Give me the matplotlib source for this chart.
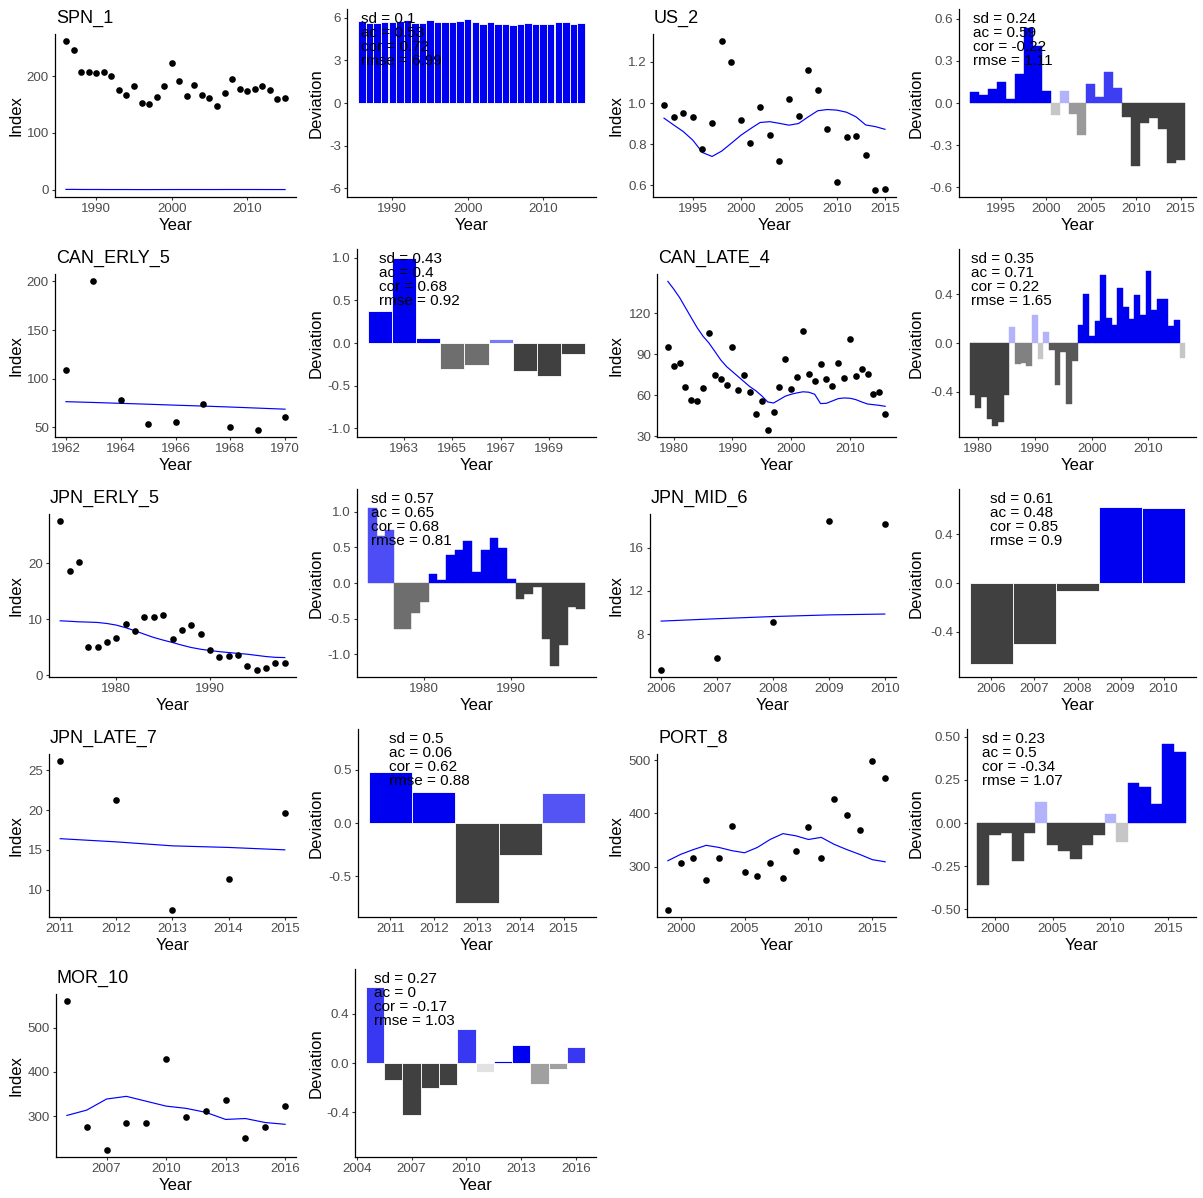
import matplotlib
matplotlib.use("Agg")
import matplotlib.pyplot as plt
from matplotlib.colors import to_rgb
from matplotlib.transforms import blended_transform_factory as blend

plt.rcParams['font.family'] = ['Liberation Sans', 'DejaVu Sans']
plt.rcParams['axes.unicode_minus'] = False

# ------------------------------------------------------------------ data
spn_years = list(range(1986, 2016))
spn_index = [261, 246, 207, 207, 206, 207, 201, 176, 167, 183, 153, 151, 163, 183, 223,
             191, 165, 185, 167, 162, 148, 170, 195, 177, 174, 177, 183, 175, 159, 162]
spn_fit = [0.82, 0.89, 0.73, 0.70, 0.71, 0.65, 0.60, 0.62, 0.61, 0.55, 0.53, 0.52, 0.56, 0.59, 0.62,
           0.65, 0.64, 0.64, 0.63, 0.61, 0.63, 0.67, 0.69, 0.67, 0.66, 0.67, 0.63, 0.60, 0.60, 0.59]
spn_dev = [5.76, 5.62, 5.65, 5.69, 5.67, 5.76, 5.81, 5.65, 5.62, 5.81, 5.67, 5.67, 5.67, 5.74, 5.88,
           5.69, 5.55, 5.67, 5.58, 5.58, 5.46, 5.53, 5.65, 5.58, 5.58, 5.58, 5.67, 5.67, 5.58, 5.62]
spn_shade = [1.0, 1.0, 1.0, 1.0, 1.0, 1.0, 1.0, 1.0, 1.0, 1.0, 1.0, 1.0, 1.0, 1.0, 1.0,
             1.0, 1.0, 1.0, 1.0, 1.0, 1.0, 1.0, 1.0, 1.0, 1.0, 1.0, 1.0, 1.0, 1.0, 1.0]
spn_stats = [0.1, 0.53, 0.72, 6.99]

us_years = list(range(1992, 2016))
us_index = [0.993, 0.933, 0.95, 0.933, 0.776, 0.904, 1.30, 1.20, 0.917, 0.808, 0.979, 0.846,
            0.72, 1.02, 0.938, 1.163, 1.065, 0.873, 0.618, 0.837, 0.842, 0.748, 0.58, 0.584]
us_fit = [0.927, 0.894, 0.862, 0.82, 0.76, 0.741, 0.767, 0.805, 0.844, 0.876, 0.906, 0.91,
          0.902, 0.893, 0.901, 0.933, 0.963, 0.969, 0.966, 0.956, 0.933, 0.894, 0.886, 0.873]
us_dev = [0.075, 0.056, 0.10, 0.148, 0.03, 0.205, 0.534, 0.405, 0.087, -0.085, 0.085, -0.078,
          -0.23, 0.136, 0.042, 0.224, 0.11, -0.10, -0.447, -0.139, -0.106, -0.184, -0.43, -0.405]
us_shade = [1, 1, 1, 1, 1, 1, 1, 1, 1, 0.3, 0.3, 0.53,
            0.53, 0.76, 0.76, 0.76, 0.76, 1, 1, 1, 1, 1, 1, 1]
us_stats = [0.24, 0.59, -0.22, 1.11]

cane_years = list(range(1962, 1971))
cane_index = [109, 200, 77.6, 53.8, 55.9, 74.1, 50.7, 47.6, 60.3]
cane_fit = [76.3, 75.5, 74.6, 73.7, 72.7, 71.8, 70.8, 69.7, 68.6]
cane_dev = [0.37, 0.99, 0.06, -0.31, -0.255, 0.05, -0.325, -0.385, -0.13]
cane_shade = [1, 1, 1, 0.76, 0.76, 0.52, 1, 1, 1]
cane_stats = [0.43, 0.4, 0.68, 0.92]

canl_years = list(range(1979, 2017))
canl_index = [95.2, 81.4, 83.8, 65.9, 56.8, 55.8, 65.4, 105.2, 75, 71.8, 67.1, 95.2, 63.9,
              74.5, 62.5, 46, 56.1, 34.9, 47.9, 65.9, 86.3, 64.2, 73, 107.2, 75.5, 70.3,
              82.6, 71.8, 66.6, 83.4, 72.5, 101.3, 74, 78.9, 75.7, 61.2, 62.7, 46.5]
canl_fit = [143.1, 137.5, 131.3, 123.9, 116.5, 109.2, 103, 98.1, 92, 85.8, 80.9, 77.2, 73.5,
            69.8, 66.1, 63.2, 59.5, 55.1, 54.3, 56.8, 59.3, 60.7, 61.7, 62.5, 62.2, 60.7,
            53.9, 54.1, 55.8, 57.5, 58, 57.8, 56.8, 55.1, 53.6, 53.1, 52.6, 51.9]
canl_dev = [-0.43, -0.53, -0.44, -0.62, -0.68, -0.65, -0.43, 0.13, -0.17, -0.165, -0.19,
            0.226, -0.13, 0.088, -0.055, -0.345, -0.07, -0.5, -0.145, 0.149, 0.40, 0.06,
            0.18, 0.557, 0.204, 0.146, 0.447, 0.295, 0.193, 0.39, 0.232, 0.59, 0.273,
            0.364, 0.359, 0.143, 0.185, -0.12]
canl_shade = [1, 1, 1, 1, 1, 1, 1, 0.3, 0.66, 0.66, 0.66, 0.3, 0.3, 0.3, 0.87, 0.87, 0.87,
              0.87, 0.87, 1, 1, 1, 1, 1, 1, 1, 1, 1, 1, 1, 1, 1, 1, 1, 1, 1, 1, 0.3]
canl_stats = [0.35, 0.71, 0.22, 1.65]

jpne_years = list(range(1974, 1999))
jpne_index = [27.5, 18.6, 20.2, 5.07, 4.96, 5.97, 6.69, 9.19, 7.88, 10.39, 10.39, 10.75, 6.5,
              8.06, 8.9, 7.34, 4.54, 3.28, 3.4, 3.64, 1.67, 1.01, 1.37, 2.27, 2.21]
jpne_fit = [9.73, 9.65, 9.55, 9.5, 9.43, 9.25, 8.96, 8.5, 7.94, 7.33, 6.75, 6.28, 5.85,
            5.38, 4.96, 4.65, 4.42, 4.22, 4.06, 3.9, 3.76, 3.55, 3.34, 3.2, 3.16]
jpne_dev = [1.05, 0.66, 0.75, -0.64, -0.65, -0.42, -0.27, 0.13, 0.04, 0.40, 0.47, 0.59, 0.16,
            0.46, 0.63, 0.49, 0.06, -0.22, -0.15, -0.05, -0.79, -1.16, -0.87, -0.34, -0.37]
jpne_shade = [0.7, 0.7, 0.7, 0.76, 0.76, 0.76, 0.76, 1, 1, 1, 1, 1, 1,
              1, 1, 1, 1, 1, 1, 1, 1, 1, 1, 1, 1]
jpne_stats = [0.57, 0.65, 0.68, 0.81]

jpnm_years = list(range(2006, 2011))
jpnm_index = [4.77, 5.82, 9.14, 18.4, 18.2]
jpnm_fit = [9.23, 9.45, 9.65, 9.8, 9.88]
jpnm_dev = [-0.667, -0.503, -0.068, 0.62, 0.615]
jpnm_shade = [1, 1, 1, 1, 1]
jpnm_stats = [0.61, 0.48, 0.85, 0.9]

jpnl_years = list(range(2011, 2016))
jpnl_index = [26.1, 21.3, 7.5, 11.4, 19.6]
jpnl_fit = [16.4, 16.0, 15.5, 15.3, 15.0]
jpnl_dev = [0.48, 0.29, -0.75, -0.30, 0.28]
jpnl_shade = [1, 1, 1, 1, 0.67]
jpnl_stats = [0.5, 0.06, 0.62, 0.88]

port_years = list(range(1999, 2017))
port_index = [219, 307, 317, 274, 317, 377, 289, 283, 306, 279, 330, 374, 317, 428, 398,
              368, 498, 466]
port_fit = [311, 323, 332, 340, 336, 330, 326, 336, 351, 362, 358, 351, 355, 342, 332,
            323, 313, 309]
port_dev = [-0.36, -0.07, -0.06, -0.22, -0.06, 0.12, -0.13, -0.16, -0.21, -0.13, -0.07,
            0.05, -0.11, 0.23, 0.21, 0.11, 0.46, 0.41]
port_shade = [1, 1, 1, 1, 1, 0.3, 1, 1, 1, 1, 1, 0.3, 0.3, 1, 1, 1, 1, 1]
port_stats = [0.23, 0.5, -0.34, 1.07]

mor_years = list(range(2005, 2017))
mor_index = [559, 275, 225, 286, 284, 430, 298, 311, 336, 252, 277, 323]
mor_fit = [302, 314, 339, 345, 334, 323, 318, 309, 293, 295, 286, 282]
mor_dev = [0.62, -0.14, -0.42, -0.20, -0.18, 0.28, -0.07, 0.02, 0.15, -0.17, -0.05, 0.13]
mor_shade = [0.78, 1, 1, 1, 1, 0.78, 0.15, 1, 1, 0.5, 0.5, 0.78]
mor_stats = [0.27, 0, -0.17, 1.03]

series = [
    ("SPN_1", spn_years, spn_index, spn_fit, spn_dev, spn_shade, spn_stats),
    ("US_2", us_years, us_index, us_fit, us_dev, us_shade, us_stats),
    ("CAN_ERLY_5", cane_years, cane_index, cane_fit, cane_dev, cane_shade, cane_stats),
    ("CAN_LATE_4", canl_years, canl_index, canl_fit, canl_dev, canl_shade, canl_stats),
    ("JPN_ERLY_5", jpne_years, jpne_index, jpne_fit, jpne_dev, jpne_shade, jpne_stats),
    ("JPN_MID_6", jpnm_years, jpnm_index, jpnm_fit, jpnm_dev, jpnm_shade, jpnm_stats),
    ("JPN_LATE_7", jpnl_years, jpnl_index, jpnl_fit, jpnl_dev, jpnl_shade, jpnl_stats),
    ("PORT_8", port_years, port_index, port_fit, port_dev, port_shade, port_stats),
    ("MOR_10", mor_years, mor_index, mor_fit, mor_dev, mor_shade, mor_stats),
]

# ------------------------------------------------------------------ layout / axis setup
# per series: left offsets of (index panel, deviation panel), deviation half-range,
# ticks for the index panel and the deviation panel, bar outlines
panel_setup = {
    "SPN_1": dict(lefts=(55, 47), dlim=6.6,
                  ix=[1990, 2000, 2010], iy=[0, 100, 200], ifmt="{:.0f}",
                  dx=[1990, 2000, 2010], dy=[-6, -3, 0, 3, 6], dfmt="{:.0f}", edge=True),
    "US_2": dict(lefts=(53, 59), dlim=0.67,
                 ix=[1995, 2000, 2005, 2010, 2015], iy=[0.6, 0.8, 1.0, 1.2], ifmt="{:.1f}",
                 dx=[1995, 2000, 2005, 2010, 2015], dy=[-0.6, -0.3, 0, 0.3, 0.6], dfmt="{:.1f}",
                 edge=False),
    "CAN_ERLY_5": dict(lefts=(55, 57), dlim=1.1,
                       ix=[1962, 1964, 1966, 1968, 1970], iy=[50, 100, 150, 200], ifmt="{:.0f}",
                       dx=[1963, 1965, 1967, 1969], dy=[-1, -0.5, 0, 0.5, 1], dfmt="{:.1f}",
                       edge=True),
    "CAN_LATE_4": dict(lefts=(57, 59), dlim=0.77,
                       ix=[1980, 1990, 2000, 2010], iy=[30, 60, 90, 120], ifmt="{:.0f}",
                       dx=[1980, 1990, 2000, 2010], dy=[-0.4, 0, 0.4], dfmt="{:.1f}", edge=False),
    "JPN_ERLY_5": dict(lefts=(49, 57), dlim=1.32,
                       ix=[1980, 1990], iy=[0, 10, 20], ifmt="{:.0f}",
                       dx=[1980, 1990], dy=[-1, -0.5, 0, 0.5, 1], dfmt="{:.1f}", edge=False),
    "JPN_MID_6": dict(lefts=(50, 59), dlim=0.77,
                      ix=[2006, 2007, 2008, 2009, 2010], iy=[8, 12, 16], ifmt="{:.0f}",
                      dx=[2006, 2007, 2008, 2009, 2010], dy=[-0.4, 0, 0.4], dfmt="{:.1f}",
                      edge=True),
    "JPN_LATE_7": dict(lefts=(49, 58), dlim=0.88,
                       ix=[2011, 2012, 2013, 2014, 2015], iy=[10, 15, 20, 25], ifmt="{:.0f}",
                       dx=[2011, 2012, 2013, 2014, 2015], dy=[-0.5, 0, 0.5], dfmt="{:.1f}",
                       edge=True),
    "PORT_8": dict(lefts=(57, 67), dlim=0.545,
                   ix=[2000, 2005, 2010, 2015], iy=[300, 400, 500], ifmt="{:.0f}",
                   dx=[2000, 2005, 2010, 2015], dy=[-0.5, -0.25, 0, 0.25, 0.5], dfmt="{:.2f}",
                   edge=False),
    "MOR_10": dict(lefts=(56, 55), dlim=0.765,
                   ix=[2007, 2010, 2013, 2016], iy=[300, 400, 500], ifmt="{:.0f}",
                   dx=[2004, 2007, 2010, 2013, 2016], dy=[-0.4, 0, 0.4], dfmt="{:.1f}",
                   edge=True),
}

W, H = 1203, 1198
BLUE = "#0000F0"
GREY = "#404040"
fig = plt.figure(figsize=(W / 100, H / 100), dpi=100)


def px_axes(x0, x1, top, bottom):
    return fig.add_axes([x0 / W, 1 - bottom / H, (x1 - x0) / W, (bottom - top) / H])


def fig_text(x, y, s, **kw):
    fig.text(x / W, 1 - y / H, s, **kw)


def style(ax, xticks, yticks, yfmt):
    for side in ("top", "right"):
        ax.spines[side].set_visible(False)
    for side in ("left", "bottom"):
        ax.spines[side].set_linewidth(0.9)
        ax.spines[side].set_color("black")
    ax.set_xticks(xticks)
    ax.set_xticklabels([str(t) for t in xticks])
    ax.set_yticks(yticks)
    ax.set_yticklabels([yfmt.format(t) for t in yticks])
    ax.tick_params(length=2.4, width=0.8, color="#333333", labelsize=9.6,
                   labelcolor="#4D4D4D", pad=2)


def padded(lo, hi, frac=0.05):
    span = hi - lo
    return lo - frac * span, hi + frac * span


def tint(base, a):
    return tuple(1 - a * (1 - c) for c in to_rgb(base))


for k, (name, yrs, idx, fit, dev, shade, stats) in enumerate(series):
    cfg = panel_setup[name]
    row, pair = divmod(k, 2)
    row_y = 240 * row
    cell_i = 600 * pair
    cell_d = cell_i + 300
    bottom = row_y + 197

    # ---- index panel: observed points with fitted curve
    top_i = row_y + 34
    left_i = cell_i + cfg["lefts"][0]
    right_i = cell_i + 296
    ax = px_axes(left_i, right_i, top_i, bottom)
    ax.plot(yrs, fit, color="#0000FF", lw=0.85, zorder=2)
    ax.scatter(yrs, idx, s=23, color="black", zorder=3, linewidths=0)
    ax.set_xlim(*padded(min(yrs), max(yrs)))
    ax.set_ylim(*padded(min(min(idx), min(fit)), max(max(idx), max(fit))))
    style(ax, cfg["ix"], cfg["iy"], cfg["ifmt"])
    fig_text(left_i + 1, top_i - 11, name, fontsize=13, ha="left", va="baseline")
    fig_text(cell_i + 16, (top_i + bottom) / 2, "Index", fontsize=12, rotation=90,
             ha="center", va="center")
    fig_text((left_i + right_i) / 2, bottom + 28, "Year", fontsize=12,
             ha="center", va="center")

    # ---- deviation panel
    top_d = row_y + 9
    left_d = cell_d + cfg["lefts"][1]
    right_d = cell_d + 296
    ax = px_axes(left_d, right_d, top_d, bottom)
    colors = [tint(BLUE if d >= 0 else GREY, s) for d, s in zip(dev, shade)]
    if cfg["edge"]:
        ax.bar(yrs, dev, width=1.0, color=colors, edgecolor="white", linewidth=0.6, zorder=1)
    else:
        ax.bar(yrs, dev, width=1.0, color=colors, edgecolor=colors, linewidth=0.3, zorder=1)
    ax.set_xlim(*padded(min(yrs) - 0.5, max(yrs) + 0.5))
    ax.set_ylim(-cfg["dlim"], cfg["dlim"])
    style(ax, cfg["dx"], cfg["dy"], cfg["dfmt"])
    sd, ac, cor, rmse = stats
    label = f"sd = {sd:g}\nac = {ac:g}\ncor = {cor:g}\nrmse = {rmse:g}"
    ax.annotate(label, xy=(yrs[0], 1), xycoords=blend(ax.transData, ax.transAxes),
                xytext=(-1, -2), textcoords="offset points", ha="left", va="top",
                fontsize=11, linespacing=1.0, zorder=5)
    fig_text(cell_d + 16, (top_d + bottom) / 2, "Deviation", fontsize=12, rotation=90,
             ha="center", va="center")
    fig_text((left_d + right_d) / 2, bottom + 28, "Year", fontsize=12,
             ha="center", va="center")

fig.savefig("out.png", dpi=100, facecolor="white")
